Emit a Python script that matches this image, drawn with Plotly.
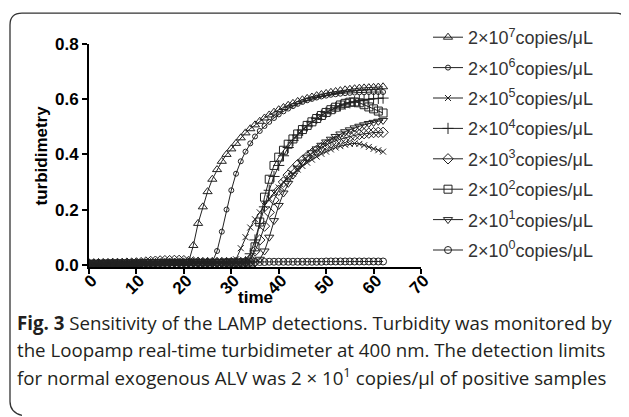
import plotly.graph_objects as go

# ---------------- data ----------------
time_min = list(range(0, 63))

series_names = [
    "2×10<sup>7</sup>copies/μL",
    "2×10<sup>6</sup>copies/μL",
    "2×10<sup>5</sup>copies/μL",
    "2×10<sup>4</sup>copies/μL",
    "2×10<sup>3</sup>copies/μL",
    "2×10<sup>2</sup>copies/μL",
    "2×10<sup>1</sup>copies/μL",
    "2×10<sup>0</sup>copies/μL",
]

c7 = [0.003, 0.003, 0.004, 0.003, 0.003, 0.004, 0.003, 0.003, 0.004, 0.003,
      0.003, 0.004, 0.004, 0.004, 0.005, 0.005, 0.005, 0.005, 0.006, 0.006,
      0.006, 0.010, 0.070, 0.150, 0.210, 0.265, 0.310, 0.345, 0.375, 0.400,
      0.420, 0.440, 0.460, 0.478, 0.493, 0.507, 0.520, 0.532, 0.543, 0.553,
      0.562, 0.570, 0.578, 0.585, 0.592, 0.598, 0.603, 0.608, 0.613, 0.617,
      0.621, 0.625, 0.628, 0.631, 0.634, 0.636, 0.638, 0.640, 0.641, 0.642,
      0.643, 0.644, 0.645]

c6 = [0.002, 0.002, 0.003, 0.002, 0.003, 0.003, 0.002, 0.003, 0.003, 0.003,
      0.003, 0.003, 0.004, 0.004, 0.004, 0.004, 0.005, 0.005, 0.005, 0.005,
      0.005, 0.006, 0.006, 0.006, 0.006, 0.006, 0.010, 0.050, 0.120, 0.200,
      0.270, 0.330, 0.375, 0.410, 0.440, 0.465, 0.485, 0.503, 0.518, 0.532,
      0.545, 0.556, 0.566, 0.575, 0.583, 0.590, 0.596, 0.601, 0.606, 0.610,
      0.613, 0.616, 0.618, 0.620, 0.622, 0.623, 0.624, 0.625, 0.625, 0.626,
      0.626, 0.626, 0.626]

c5 = [0.002, 0.002, 0.002, 0.003, 0.002, 0.003, 0.003, 0.003, 0.003, 0.003,
      0.003, 0.004, 0.004, 0.004, 0.004, 0.004, 0.004, 0.005, 0.005, 0.005,
      0.005, 0.005, 0.005, 0.005, 0.005, 0.006, 0.006, 0.006, 0.006, 0.006,
      0.006, 0.020, 0.060, 0.100, 0.135, 0.165, 0.190, 0.215, 0.240, 0.260,
      0.280, 0.300, 0.315, 0.330, 0.345, 0.358, 0.370, 0.381, 0.392, 0.402,
      0.410, 0.418, 0.425, 0.430, 0.435, 0.438, 0.440, 0.438, 0.433, 0.427,
      0.420, 0.415, 0.410]

c4 = [0.001, 0.002, 0.002, 0.002, 0.002, 0.003, 0.002, 0.003, 0.003, 0.003,
      0.003, 0.003, 0.003, 0.004, 0.004, 0.004, 0.004, 0.004, 0.004, 0.005,
      0.005, 0.005, 0.005, 0.005, 0.005, 0.005, 0.005, 0.006, 0.006, 0.006,
      0.006, 0.006, 0.006, 0.010, 0.040, 0.090, 0.150, 0.210, 0.270, 0.320,
      0.360, 0.395, 0.425, 0.450, 0.470, 0.488, 0.503, 0.517, 0.530, 0.542,
      0.552, 0.561, 0.569, 0.576, 0.582, 0.587, 0.591, 0.595, 0.598, 0.600,
      0.602, 0.603, 0.604]

c3 = [0.003, 0.003, 0.004, 0.004, 0.004, 0.005, 0.005, 0.005, 0.006, 0.006,
      0.007, 0.008, 0.010, 0.012, 0.013, 0.014, 0.015, 0.015, 0.016, 0.016,
      0.015, 0.012, 0.010, 0.009, 0.008, 0.008, 0.008, 0.008, 0.008, 0.008,
      0.008, 0.008, 0.008, 0.010, 0.020, 0.050, 0.090, 0.140, 0.190, 0.235,
      0.270, 0.300, 0.325, 0.345, 0.363, 0.378, 0.392, 0.404, 0.415, 0.425,
      0.434, 0.442, 0.449, 0.455, 0.460, 0.465, 0.469, 0.472, 0.475, 0.477,
      0.479, 0.480, 0.480]

c2 = [0.002, 0.002, 0.002, 0.002, 0.003, 0.003, 0.003, 0.003, 0.003, 0.003,
      0.003, 0.003, 0.004, 0.004, 0.004, 0.004, 0.004, 0.004, 0.004, 0.004,
      0.005, 0.005, 0.005, 0.005, 0.005, 0.005, 0.005, 0.005, 0.005, 0.006,
      0.006, 0.006, 0.006, 0.006, 0.010, 0.065, 0.155, 0.245, 0.310, 0.360,
      0.390, 0.415, 0.437, 0.456, 0.474, 0.490, 0.505, 0.518, 0.530, 0.541,
      0.552, 0.562, 0.571, 0.579, 0.585, 0.589, 0.590, 0.587, 0.580, 0.572,
      0.565, 0.557, 0.550]

c1 = [0.002, 0.002, 0.002, 0.002, 0.002, 0.002, 0.003, 0.003, 0.003, 0.003,
      0.003, 0.003, 0.003, 0.003, 0.004, 0.004, 0.004, 0.004, 0.004, 0.004,
      0.004, 0.005, 0.005, 0.005, 0.005, 0.005, 0.005, 0.005, 0.005, 0.005,
      0.006, 0.006, 0.006, 0.006, 0.006, 0.006, 0.020, 0.050, 0.100, 0.160,
      0.215, 0.260, 0.295, 0.325, 0.350, 0.372, 0.390, 0.406, 0.420, 0.433,
      0.445, 0.455, 0.465, 0.474, 0.482, 0.489, 0.496, 0.502, 0.507, 0.512,
      0.516, 0.520, 0.523]

c0 = [0.004, 0.004, 0.005, 0.005, 0.005, 0.005, 0.006, 0.006, 0.006, 0.006,
      0.006, 0.007, 0.007, 0.007, 0.007, 0.007, 0.008, 0.008, 0.008, 0.008,
      0.008, 0.008, 0.009, 0.009, 0.009, 0.009, 0.009, 0.009, 0.009, 0.010,
      0.010, 0.010, 0.010, 0.010, 0.010, 0.010, 0.010, 0.010, 0.011, 0.011,
      0.011, 0.011, 0.011, 0.011, 0.011, 0.011, 0.011, 0.011, 0.011, 0.011,
      0.012, 0.012, 0.012, 0.012, 0.012, 0.012, 0.012, 0.012, 0.012, 0.012,
      0.012, 0.012, 0.012]

series_values = [c7, c6, c5, c4, c3, c2, c1, c0]

x_ticks = [0, 10, 20, 30, 40, 50, 60, 70]
y_ticks = [0.0, 0.2, 0.4, 0.6, 0.8]
y_tick_labels = ["0.0", "0.2", "0.4", "0.6", "0.8"]

caption_lines = [
    "<b>Fig. 3</b> Sensitivity of the LAMP detections. Turbidity was monitored by",
    "the Loopamp real-time turbidimeter at 400 nm. The detection limits",
    "for normal exogenous ALV was 2 × 10<sup>1</sup> copies/μl of positive samples",
]

# ---------------- styles ----------------
markers = [
    dict(symbol="triangle-up-open", size=8),
    dict(symbol="circle-open", size=5),
    dict(symbol="x-thin-open", size=6),
    dict(symbol="cross-thin-open", size=8),
    dict(symbol="diamond-open", size=8),
    dict(symbol="square-open", size=8),
    dict(symbol="triangle-down-open", size=8),
    dict(symbol="circle-open", size=7),
]
INK = "#222222"
SANS = "Liberation Sans"

# page offset of the plot div (browser default body margin)
OFF = 8
W, H = 629, 417
# plot area on the page: x 89..421, y 43..267
ML = 89 - OFF
MT = 43 - OFF
MR = W - (421 - OFF)
MB = H - (267 - OFF)
PW, PH = W - ML - MR, H - MT - MB


def px(xp):
    """page pixel x -> paper x"""
    return (xp - OFF - ML) / PW


def py(yp):
    """page pixel y -> paper y"""
    return (H - MB - (yp - OFF)) / PH


fig = go.Figure()
for name, vals, mk in zip(series_names, series_values, markers):
    fig.add_trace(go.Scatter(
        x=time_min, y=vals, name=name, mode="lines+markers",
        legendgroup=name,
        line=dict(color=INK, width=1),
        marker=dict(symbol=mk["symbol"], size=mk["size"], color=INK,
                    line=dict(color=INK, width=1)),
    ))

# decorative frame (open rounded border, left + top)
pts = [(22, 416), (10, 413), (10, 402), (10, 24), (10, 12), (22, 12),
       (616, 12), (624, 12), (627, 19)]
P = [(px(a), py(b)) for a, b in pts]
path = (f"M {P[0][0]},{P[0][1]} Q {P[1][0]},{P[1][1]} {P[2][0]},{P[2][1]} "
        f"L {P[3][0]},{P[3][1]} Q {P[4][0]},{P[4][1]} {P[5][0]},{P[5][1]} "
        f"L {P[6][0]},{P[6][1]} Q {P[7][0]},{P[7][1]} {P[8][0]},{P[8][1]}")
fig.add_shape(type="path", path=path, xref="paper", yref="paper",
              line=dict(color="#333333", width=1.3))

caption_y = [323, 350, 377]
for txt, yy in zip(caption_lines, caption_y):
    fig.add_annotation(text=txt, xref="paper", yref="paper", x=px(15), y=py(yy),
                       xanchor="left", yanchor="middle", showarrow=False,
                       font=dict(family="Open Sans", size=18.7, color="#231f20"))

# axis titles
fig.add_annotation(text="time", xref="paper", yref="paper", x=0.5, y=py(298),
                   xanchor="center", yanchor="middle", showarrow=False,
                   font=dict(family=SANS, size=17, color="black", weight="bold"))
fig.add_annotation(text="turbidimetry", xref="paper", yref="paper", x=px(41), y=0.5,
                   xanchor="center", yanchor="middle", showarrow=False, textangle=-90,
                   font=dict(family=SANS, size=17, color="black", weight="bold"))

axis_font = dict(family=SANS, size=17, color="black", weight="bold")
fig.update_layout(
    width=W, height=H,
    margin=dict(l=ML, r=MR, t=MT, b=MB),
    paper_bgcolor="white", plot_bgcolor="white",
    showlegend=True,
    legend=dict(x=px(428), y=py(19), xanchor="left", yanchor="top",
                font=dict(family=SANS, size=18, color="#333333"),
                itemwidth=30, tracegroupgap=4, maxheight=400,
                bgcolor="rgba(0,0,0,0)"),
    xaxis=dict(range=[0, 70], tickvals=x_ticks, tickangle=-45,
               showline=True, linecolor="black", linewidth=2,
               ticks="outside", ticklen=5, tickwidth=2, tickcolor="black",
               ticklabelstandoff=-10, ticklabelshift=3,
               showgrid=False, zeroline=False, tickfont=axis_font),
    yaxis=dict(range=[-0.008, 0.8], tickvals=y_ticks, ticktext=y_tick_labels,
               showline=True, linecolor="black", linewidth=2,
               ticks="outside", ticklen=5, tickwidth=2, tickcolor="black",
               showgrid=False, zeroline=False, tickfont=axis_font),
)

fig.write_html("out.html")
